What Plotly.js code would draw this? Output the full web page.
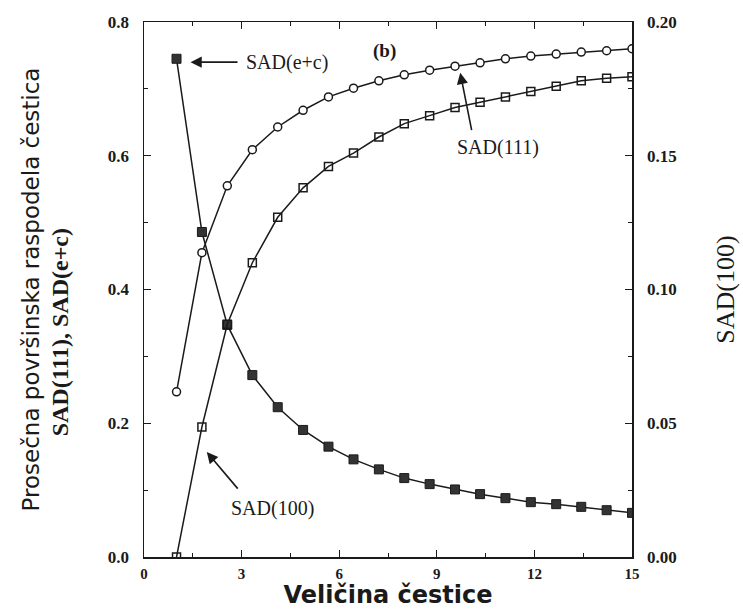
<!DOCTYPE html>
<html><head><meta charset="utf-8">
<script src="https://cdn.plot.ly/plotly-3.0.1.min.js"></script>
<style>html,body{margin:0;padding:0;background:#fff}</style>
</head><body><div id="chart" style="width:743px;height:614px"></div>
<script>
// Particle size (x)
const particleSize = [1, 1.78, 2.56, 3.33, 4.11, 4.89, 5.67, 6.44, 7.22, 8.0, 8.78, 9.56, 10.33, 11.11, 11.89, 12.67, 13.44, 14.22, 15];
// SAD(e+c) - filled squares, left axis
const sadEC = [0.745, 0.486, 0.347, 0.272, 0.224, 0.190, 0.165, 0.146, 0.131, 0.118, 0.109, 0.101, 0.094, 0.088, 0.082, 0.079, 0.075, 0.070, 0.066];
// SAD(111) - open circles, left axis
const sad111 = [0.247, 0.455, 0.555, 0.609, 0.643, 0.668, 0.688, 0.701, 0.712, 0.721, 0.728, 0.734, 0.739, 0.745, 0.749, 0.752, 0.755, 0.757, 0.760];
// SAD(100) - open squares, right axis
const sad100 = [0.0, 0.0486, 0.087, 0.110, 0.127, 0.138, 0.146, 0.151, 0.157, 0.162, 0.165, 0.168, 0.170, 0.172, 0.174, 0.176, 0.178, 0.179, 0.1795];

const leftTicks = [0, 0.2, 0.4, 0.6, 0.8];
const rightTicks = [0, 0.05, 0.10, 0.15, 0.20];
const xTicks = [0, 3, 6, 9, 12, 15];

const ink = '#1a1a1a';
const serif = 'Liberation Serif, Times New Roman, serif';
const sans = 'DejaVu Sans, Verdana, sans-serif';

const traces = [
  {x: particleSize, y: sad100, yaxis: 'y2', type: 'scatter', mode: 'lines+markers', name: 'SAD(100)',
   line: {color: ink, width: 1.5},
   marker: {symbol: 'square-open', size: 8, color: ink, line: {color: ink, width: 1.5}}},
  {x: particleSize, y: sad111, type: 'scatter', mode: 'lines+markers', name: 'SAD(111)',
   line: {color: ink, width: 1.5},
   marker: {symbol: 'circle', size: 8, color: '#ffffff', line: {color: ink, width: 1.5}}},
  {x: particleSize, y: sadEC, type: 'scatter', mode: 'lines+markers', name: 'SAD(e+c)',
   line: {color: ink, width: 1.5},
   marker: {symbol: 'square', size: 9, color: '#333333', line: {color: ink, width: 1}}}
];

const tickFont = {family: serif, size: 17, color: ink, weight: 'bold'};

const layout = {
  width: 743, height: 614,
  margin: {l: 144, r: 111, t: 22, b: 57, pad: 0},
  paper_bgcolor: '#ffffff', plot_bgcolor: '#ffffff',
  showlegend: false,
  xaxis: {
    range: [0, 15], tickvals: xTicks, ticktext: xTicks.map(String),
    showgrid: false, zeroline: false, showline: true, linecolor: ink, linewidth: 1.5,
    mirror: 'ticks', ticks: 'inside', ticklen: 7, tickwidth: 1.2, tickcolor: ink,
    minor: {dtick: 1.5, tick0: 0, ticks: 'inside', ticklen: 4, tickcolor: ink, tickwidth: 1},
    tickfont: {family: serif, size: 15, color: ink, weight: 'bold'}, ticklabelstandoff: 2,
    title: {text: 'Veličina čestice', font: {family: sans, size: 24, color: ink, weight: 'bold'}, standoff: 0}
  },
  yaxis: {
    range: [0, 0.8], tickvals: leftTicks, ticktext: leftTicks.map(v => v.toFixed(1)),
    showgrid: false, zeroline: false, showline: true, linecolor: ink, linewidth: 1.5,
    ticks: 'inside', ticklen: 7, tickwidth: 1.2, tickcolor: ink,
    minor: {dtick: 0.1, tick0: 0, ticks: 'inside', ticklen: 4, tickcolor: ink, tickwidth: 1},
    tickfont: tickFont, ticklabelstandoff: 10,
    title: {text: 'Prosečna površinska raspodela čestica', font: {family: sans, size: 23, color: ink}, standoff: 62}
  },
  yaxis2: {
    range: [0, 0.2], overlaying: 'y', side: 'right', tickvals: rightTicks, ticktext: rightTicks.map(v => v.toFixed(2)),
    showgrid: false, zeroline: false, showline: true, linecolor: ink, linewidth: 1.5,
    ticks: 'inside', ticklen: 7, tickwidth: 1.2, tickcolor: ink,
    minor: {dtick: 0.025, tick0: 0, ticks: 'inside', ticklen: 4, tickcolor: ink, tickwidth: 1},
    tickfont: tickFont, ticklabelstandoff: 10,
    title: {text: 'SAD(100)', font: {family: serif, size: 26, color: ink}, standoff: 40}
  },
  annotations: [
    {xref: 'paper', yref: 'paper', x: -0.172, y: 0.42, xanchor: 'center', yanchor: 'middle',
     text: 'SAD(111), SAD(e+c)', showarrow: false, textangle: -90,
     font: {family: serif, size: 24, color: ink, weight: 'bold'}},
    // arrows
    {x: 1.43, y: 0.740, ax: 2.92, ay: 0.740, axref: 'x', ayref: 'y', xref: 'x', yref: 'y', text: '', showarrow: true,
     arrowhead: 2, arrowsize: 1.4, arrowwidth: 1.6, arrowcolor: ink, standoff: 0},
    {x: 9.72, y: 0.724, ax: 10.08, ay: 0.636, axref: 'x', ayref: 'y', xref: 'x', yref: 'y', text: '', showarrow: true,
     arrowhead: 2, arrowsize: 1.4, arrowwidth: 1.6, arrowcolor: ink, standoff: 0},
    {x: 1.93, y: 0.157, ax: 2.92, ay: 0.100, axref: 'x', ayref: 'y', xref: 'x', yref: 'y', text: '', showarrow: true,
     arrowhead: 2, arrowsize: 1.4, arrowwidth: 1.6, arrowcolor: ink, standoff: 0},
    // labels
    {x: 3.08, y: 0.740, xref: 'x', yref: 'y', xanchor: 'left', text: 'SAD(e+c)', showarrow: false,
     font: {family: serif, size: 20, color: ink}},
    {x: 7.40, y: 0.757, xref: 'x', yref: 'y', text: '(b)', showarrow: false,
     font: {family: serif, size: 19, color: ink, weight: 'bold'}},
    {x: 10.89, y: 0.612, xref: 'x', yref: 'y', text: 'SAD(111)', showarrow: false,
     font: {family: serif, size: 20, color: ink}},
    {x: 3.94, y: 0.073, xref: 'x', yref: 'y', text: 'SAD(100)', showarrow: false,
     font: {family: serif, size: 20, color: ink}}
  ]
};

Plotly.newPlot('chart', traces, layout, {displayModeBar: false, staticPlot: true});
</script></body></html>
